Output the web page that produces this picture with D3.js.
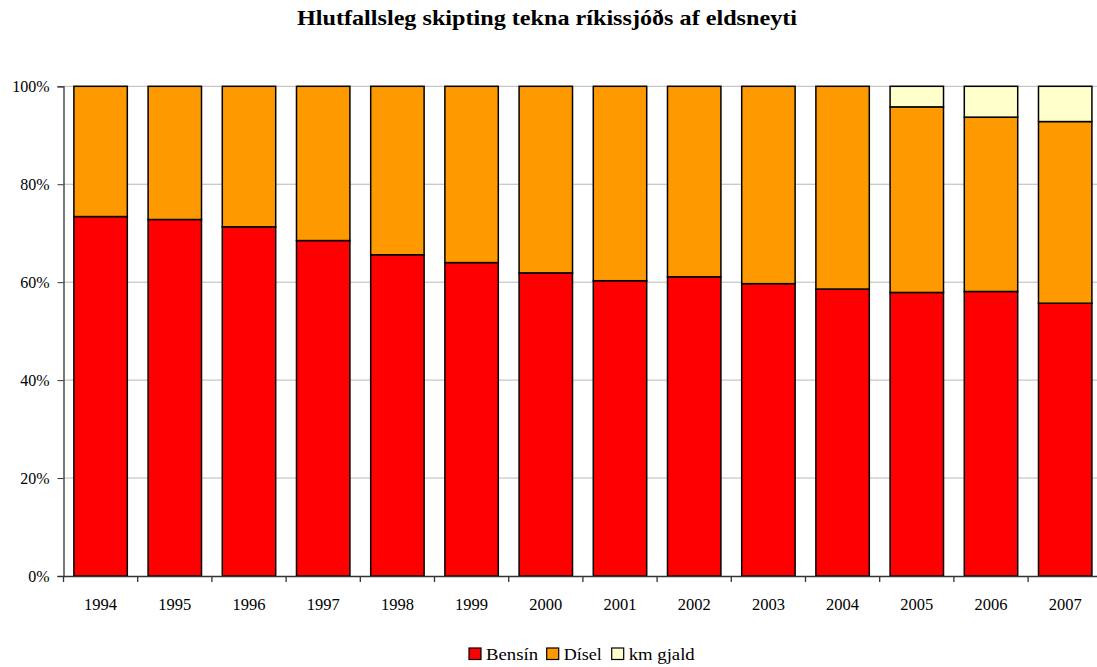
<!DOCTYPE html>
<html><head><meta charset="utf-8">
<script src="https://cdn.jsdelivr.net/npm/d3@7"></script>
<style>body{margin:0;background:#fff}svg{display:block}text{font-family:"Palatino Linotype","Book Antiqua","Liberation Serif","DejaVu Serif",serif}</style>
</head><body><svg id="c" width="1097" height="667"></svg>
<script>
const years = ["1994","1995","1996","1997","1998","1999","2000","2001","2002","2003","2004","2005","2006","2007"];
const bensin = [73.4,72.8,71.3,68.5,65.6,64.0,61.9,60.3,61.1,59.7,58.6,57.9,58.1,55.7];
const disel  = [26.6,27.2,28.7,31.5,34.4,36.0,38.1,39.7,38.9,40.3,41.4,37.9,35.6,37.1];
const kmgjald= [0,0,0,0,0,0,0,0,0,0,0,4.2,6.3,7.2];
const seriesNames = ["Bensín","Dísel","km gjald"];
const colors = ["#FF0000","#FF9900","#FFFFCC"];
const yTicks = [0,20,40,60,80,100];
const title = "Hlutfallsleg skipting tekna ríkissjóðs af eldsneyti";

(function(){
const svg = d3.select("#c");
const pL = 63.5, pR = 63.5 + 14*74.2, pT = 86.3, pB = 576;
const x = d3.scaleBand().domain(years).range([pL,pR]).paddingInner(0.28).paddingOuter(0.14);
const y = d3.scaleLinear().domain([0,100]).range([pB,pT]);

svg.append("text").attr("x",297).attr("y",25).attr("text-anchor","start")
  .attr("font-weight","bold").attr("font-size",21).attr("fill","#000")
  .attr("textLength",500).attr("lengthAdjust","spacingAndGlyphs").text(title);

svg.append("g").selectAll("line").data(yTicks.filter(d=>d>0)).join("line")
  .attr("x1",pL).attr("x2",pR).attr("y1",d=>y(d)).attr("y2",d=>y(d))
  .attr("stroke","#b8b8b8").attr("stroke-width",1);

const data = years.map((yr,i)=>({year:yr,"Bensín":bensin[i],"Dísel":disel[i],"km gjald":kmgjald[i]}));
const stack = d3.stack().keys(seriesNames)(data);
svg.append("g").selectAll("g").data(stack).join("g").attr("fill",(d,i)=>colors[i])
  .selectAll("rect").data(d=>d.filter(p=>p[1]-p[0]>0)).join("rect")
  .attr("x",d=>x(d.data.year)).attr("width",x.bandwidth())
  .attr("y",d=>y(d[1])).attr("height",d=>y(d[0])-y(d[1]))
  .attr("stroke","#000").attr("stroke-width",1.5);

const ff = '"Palatino Linotype","Book Antiqua","Liberation Serif",serif';
const ya = svg.append("g").attr("transform",`translate(${pL},0)`)
  .call(d3.axisLeft(y).tickValues(yTicks).tickFormat(d=>d+"%").tickSize(6).tickPadding(8));
ya.select(".domain").attr("stroke","#333").attr("stroke-width",1.3);
ya.selectAll(".tick line").attr("stroke","#333");
ya.selectAll("text").attr("font-size",16).attr("fill","#000").style("font-family",ff);

const xa = svg.append("g").attr("transform",`translate(0,${pB})`)
  .call(d3.axisBottom(x).tickSize(0).tickPadding(22));
xa.select(".domain").attr("stroke","#333").attr("stroke-width",1.3);
xa.selectAll("text").attr("font-size",16.5).attr("fill","#000").style("font-family",ff);
const bounds = years.map(yr=>x(yr)-x.step()*x.paddingInner()/2);
svg.append("g").selectAll("line").data(bounds).join("line")
  .attr("x1",d=>d).attr("x2",d=>d).attr("y1",pB).attr("y2",pB+6)
  .attr("stroke","#333").attr("stroke-width",1.3);

const legX = [469, 546.7, 611.7];
const legW = [52, 38, 66];
const lg = svg.append("g").selectAll("g").data(seriesNames).join("g")
  .attr("transform",(d,i)=>`translate(${legX[i]},648)`);
lg.append("rect").attr("width",12).attr("height",11.5).attr("fill",(d,i)=>colors[i])
  .attr("stroke","#000").attr("stroke-width",1.2);
lg.append("text").attr("x",17).attr("y",11.5).attr("font-size",17).attr("fill","#000")
  .attr("textLength",(d,i)=>legW[i]).attr("lengthAdjust","spacingAndGlyphs").text(d=>d);
})();
</script></body></html>
